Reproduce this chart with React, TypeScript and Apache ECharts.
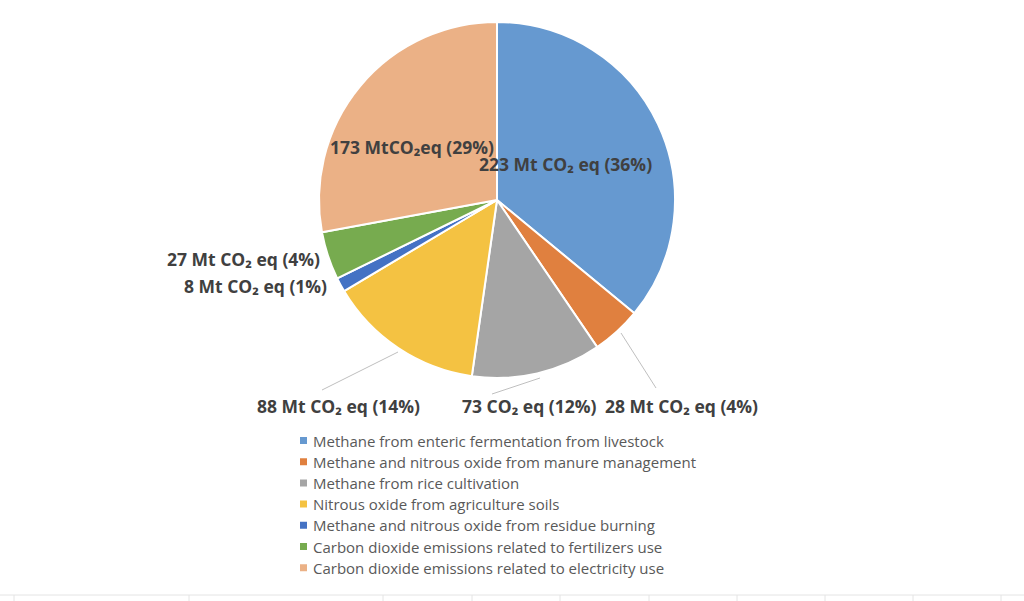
import React, { useEffect, useRef } from "react";
import * as echarts from "echarts";

const categories = [
  "Methane from enteric fermentation from livestock",
  "Methane and nitrous oxide from manure management",
  "Methane from rice cultivation",
  "Nitrous oxide from agriculture soils",
  "Methane and nitrous oxide from residue burning",
  "Carbon dioxide emissions related to fertilizers use",
  "Carbon dioxide emissions related to electricity use",
];
const values = [223, 28, 73, 88, 8, 27, 173];
const labelTexts = [
  "223 Mt CO₂ eq (36%)",
  "28 Mt CO₂ eq (4%)",
  "73 CO₂ eq (12%)",
  "88 Mt CO₂ eq (14%)",
  "8 Mt CO₂ eq (1%)",
  "27 Mt CO₂ eq (4%)",
  "173 MtCO₂eq (29%)",
];
const colors = ["#6699D0", "#E0803F", "#A5A5A5", "#F4C242", "#4472C4", "#77AB4F", "#EBB186"];

// label anchor (left, middle) positions and leader lines
const labelPos: [number, number][] = [
  [479, 164],
  [605, 406],
  [462, 406],
  [257, 406],
  [184, 286],
  [167, 259],
  [330, 147],
];
const leaderLines: ([number, number][] | null)[] = [
  null,
  [[621, 333], [621, 333], [656, 388]],
  [[540, 378], [540, 378], [492, 394]],
  [[398, 352], [398, 352], [322, 390]],
  null,
  null,
  null,
];
const gridXs = [14, 189, 383, 472, 560, 649, 737, 825, 913, 1001];

export default function App() {
  const ref = useRef<HTMLDivElement>(null);
  useEffect(() => {
    if (!ref.current) return;
    const chart = echarts.init(ref.current, null, { renderer: "svg" });
    const graphics: any[] = [
      {
        type: "line",
        shape: { x1: 0, y1: 595, x2: 1024, y2: 595 },
        style: { stroke: "#E4E4E4", lineWidth: 1 },
      },
      ...gridXs.map((x) => ({
        type: "line",
        shape: { x1: x, y1: 595, x2: x, y2: 601 },
        style: { stroke: "#E4E4E4", lineWidth: 1 },
      })),
    ];
    chart.setOption({
      animation: false,
      backgroundColor: "#FFFFFF",
      color: colors,
      graphic: graphics,
      legend: {
        orient: "vertical",
        left: 293,
        top: 428,
        itemWidth: 9,
        itemHeight: 9,
        itemGap: 6.2,
        icon: "rect",
        data: categories,
        textStyle: {
          color: "#595959",
          fontSize: 15,
          lineHeight: 15,
          fontFamily: "Open Sans",
        },
      },
      series: [
        {
          type: "pie",
          center: [497, 200],
          radius: 178,
          startAngle: 90,
          clockwise: true,
          avoidLabelOverlap: false,
          itemStyle: { borderColor: "#FFFFFF", borderWidth: 2 },
          label: {
            show: true,
            position: "outside",
            formatter: (p: any) => labelTexts[p.dataIndex],
            color: "#404040",
            fontWeight: "bold",
            fontSize: 17.5,
            fontFamily: "Open Sans",
          },
          labelLine: {
            show: true,
            lineStyle: { color: "#BFBFBF", width: 1 },
          },
          labelLayout: (params: any) => {
            const i = params.dataIndex;
            const res: any = {
              x: labelPos[i][0],
              y: labelPos[i][1],
              align: "left",
              verticalAlign: "middle",
            };
            if (leaderLines[i]) res.labelLinePoints = leaderLines[i];
            return res;
          },
          data: categories.map((name, i) => ({
            name,
            value: values[i],
            labelLine: { show: leaderLines[i] !== null },
          })),
        },
      ],
    });
    return () => chart.dispose();
  }, []);
  return (
    <div
      ref={ref}
      style={{ position: "fixed", left: 0, top: 0, width: 1024, height: 601 }}
    />
  );
}
